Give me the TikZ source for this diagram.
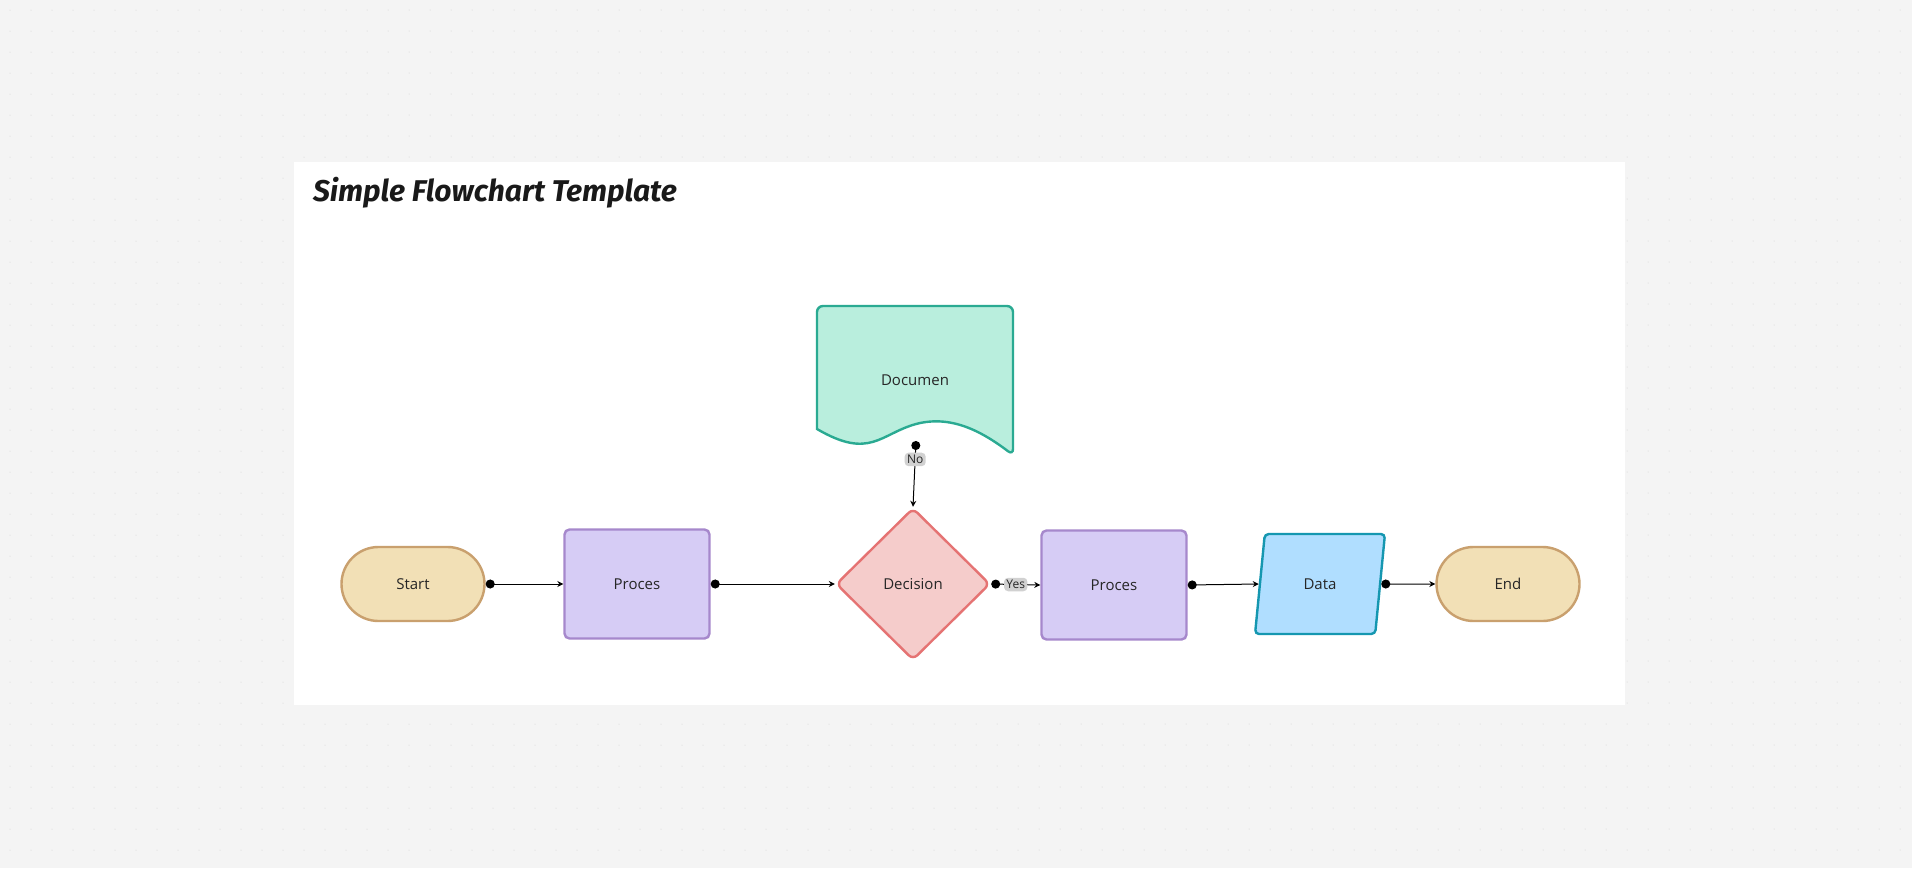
\documentclass[tikz,border=0pt]{standalone}
\usepackage{fontspec}
\setmainfont{Open Sans}
\newfontfamily\titlefont{Fira Sans}
\usetikzlibrary{shapes.geometric,shapes.misc,arrows.meta}
\definecolor{bgc}{HTML}{F4F4F4}
\definecolor{tanF}{HTML}{F2E0B6}\definecolor{tanD}{HTML}{C9A06E}
\definecolor{purF}{HTML}{D6CCF5}\definecolor{purD}{HTML}{A688CC}
\definecolor{redF}{HTML}{F5CCCB}\definecolor{redD}{HTML}{E57373}
\definecolor{grnF}{HTML}{B9EEDD}\definecolor{grnD}{HTML}{2AAA92}
\definecolor{bluF}{HTML}{B0DEFF}\definecolor{bluD}{HTML}{1597B0}
\begin{document}
\begin{tikzpicture}[x=0.5pt,y=-0.5pt,
  every node/.style={font=\fontsize{7.5}{9}\selectfont, text=black!85},
  term/.style={rounded rectangle, fill=tanF, draw=tanD, line width=1.2pt, minimum width=71.5pt, minimum height=37pt, inner sep=0},
  proc/.style={rectangle, rounded corners=2.5pt, fill=purF, draw=purD, line width=1.2pt, minimum width=72.5pt, minimum height=54.5pt},
  dec/.style={diamond, rounded corners=3pt, fill=redF, draw=redD, line width=1.2pt, minimum width=77pt, minimum height=76pt, inner sep=0},
  dat/.style={trapezium, trapezium left angle=75, trapezium right angle=105, rounded corners=2pt, fill=bluF, draw=bluD, line width=1.2pt, minimum width=65pt, minimum height=50pt, inner sep=0, trapezium stretches=true},
  con/.style={draw=black, line width=0.5pt, {Circle[length=4.5pt]}-{Stealth[length=3pt,width=3pt]}},
  lab/.style={fill=black!18, rounded corners=2pt, inner sep=1.2pt, font=\fontsize{6}{7}\selectfont}]
\useasboundingbox (0,0) rectangle (1912,868);
\fill[bgc] (0,0) rectangle (1912,868);
\foreach \i in {0,...,91}{\foreach \j in {0,...,41}{\fill[black!18] (\i*21+10,\j*21+10) circle (0.5);}}
\fill[white] (294,162) rectangle (1625,705);
\node[anchor=west, font=\titlefont\fontsize{15}{18}\selectfont\bfseries\itshape, text=black!90] (title) at (306,193) {Simple Flowchart Template};
\node[term] (start) at (413,584) {Start};
\node[proc] (p1) at (637,584) {Proces};
\node[dec] (dec) at (913,584) {Decision};
\node[proc] (p2) at (1114,585) {Proces};
\node[dat] (data) at (1320,584) {Data};
\node[term] (end) at (1508,584) {End};
% document
\draw[fill=grnF, draw=grnD, line width=1.2pt, rounded corners=3pt]
  (817,429) -- (817,306) -- (1013,306) -- (1013,455) [sharp corners]
  .. controls (980,430) and (950,415) .. (916,424)
  .. controls (880,434) and (870,460) .. (817,429) -- cycle;
\node (doc) at (915,380) {Documen};
\coordinate (docb) at (916,441);
\draw[con] (start.east) -- (p1.west);
\draw[con] (p1.east) -- (dec.west);
\draw[con] (dec.east) -- node[lab] {Yes} (p2.west);
\draw[con] (p2.east) -- (data.west);
\draw[con] (data.east) -- (end.west);
\draw[con] (docb) -- node[lab,pos=0.28] {No} (dec.north);
\end{tikzpicture}
\end{document}
